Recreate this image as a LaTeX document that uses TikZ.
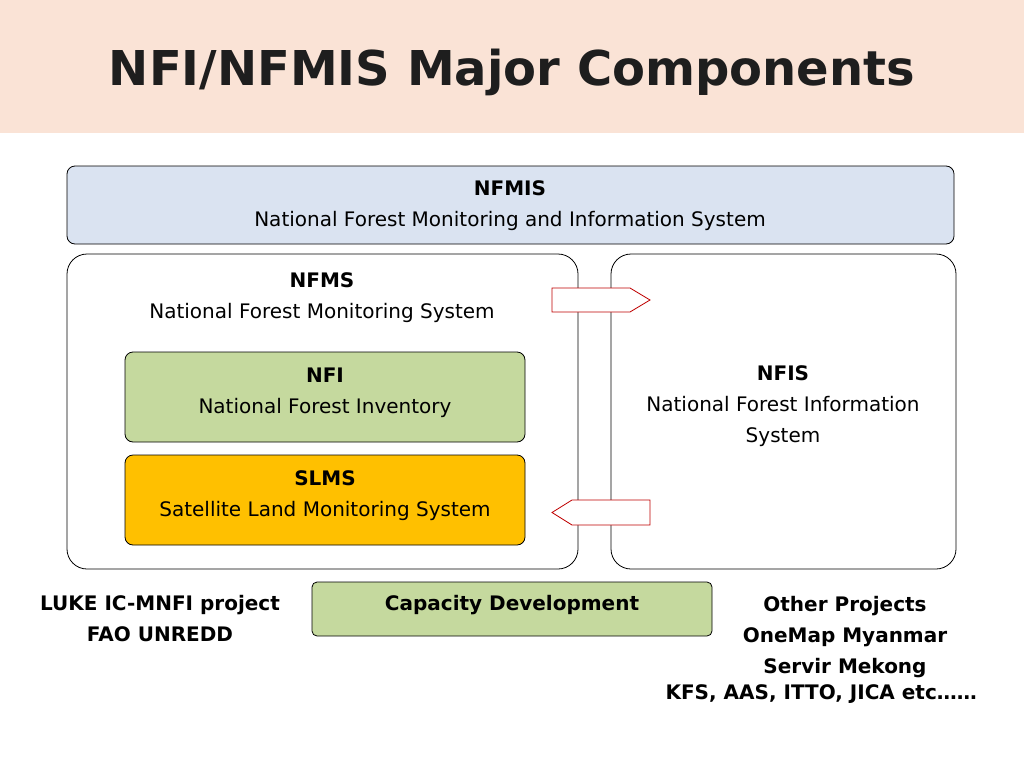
\documentclass[tikz,border=0pt]{standalone}
\usepackage{fontspec}
\setmainfont{DejaVu Sans}
\begin{document}
\begin{tikzpicture}[x=1pt,y=-1pt,
  box/.style={draw=black,rounded corners=8pt,line width=0.8pt},
  txt/.style={font=\fontsize{20}{31}\selectfont,align=center},
  btxt/.style={font=\fontsize{20}{31}\selectfont\bfseries,align=center},
  arr/.style={draw=red!75!black,fill=white,line width=0.8pt}]
\useasboundingbox (0,0) rectangle (1024,768);
\clip (0,0) rectangle (1024,768);
\fill[fill={rgb,255:red,250;green,227;blue,214}] (0,0) rectangle (1024,133);
\node[font=\fontsize{48}{56}\selectfont\bfseries,text={rgb,255:red,30;green,30;blue,30}] (title) at (512,72) {NFI/NFMIS Major Components};
\draw[box,fill={rgb,255:red,218;green,227;blue,241}] (67,166) rectangle (954,244);
\node[txt] (nfmis) at (510,206) {\textbf{NFMIS}\\National Forest Monitoring and Information System};
\draw[box,rounded corners=20pt] (67,254) rectangle (578,569);
\draw[box,rounded corners=20pt] (611,254) rectangle (956,569);
\node[txt] (nfms) at (322,298) {\textbf{NFMS}\\National Forest Monitoring System};
\draw[box,fill={rgb,255:red,197;green,217;blue,158}] (125,352) rectangle (525,442);
\node[txt] (nfi) at (325,393) {\textbf{NFI}\\National Forest Inventory};
\draw[box,fill={rgb,255:red,255;green,192;blue,0}] (125,455) rectangle (525,545);
\node[txt] (slms) at (325,496) {\textbf{SLMS}\\Satellite Land Monitoring System};
\node[txt] (nfis) at (783,406) {\textbf{NFIS}\\National Forest Information\\System};
\draw[arr] (552,288) -- (630,288) -- (650,300) -- (630,312) -- (552,312) -- cycle;
\draw[arr] (650,500) -- (572,500) -- (552,512.5) -- (572,525) -- (650,525) -- cycle;
\draw[box,rounded corners=5pt,fill={rgb,255:red,197;green,217;blue,158}] (312,582) rectangle (712,636);
\node[btxt] (cap) at (512,605) {Capacity Development};
\node[btxt] (left) at (160,619) {LUKE IC-MNFI project\\FAO UNREDD};
\node[btxt,anchor=north west,align=left] (kfs) at (662,681) {KFS, AAS, ITTO, JICA etc……};
\node[btxt,anchor=south] (other) at (845,681) {Other Projects\\OneMap Myanmar\\Servir Mekong};
\end{tikzpicture}
\end{document}
